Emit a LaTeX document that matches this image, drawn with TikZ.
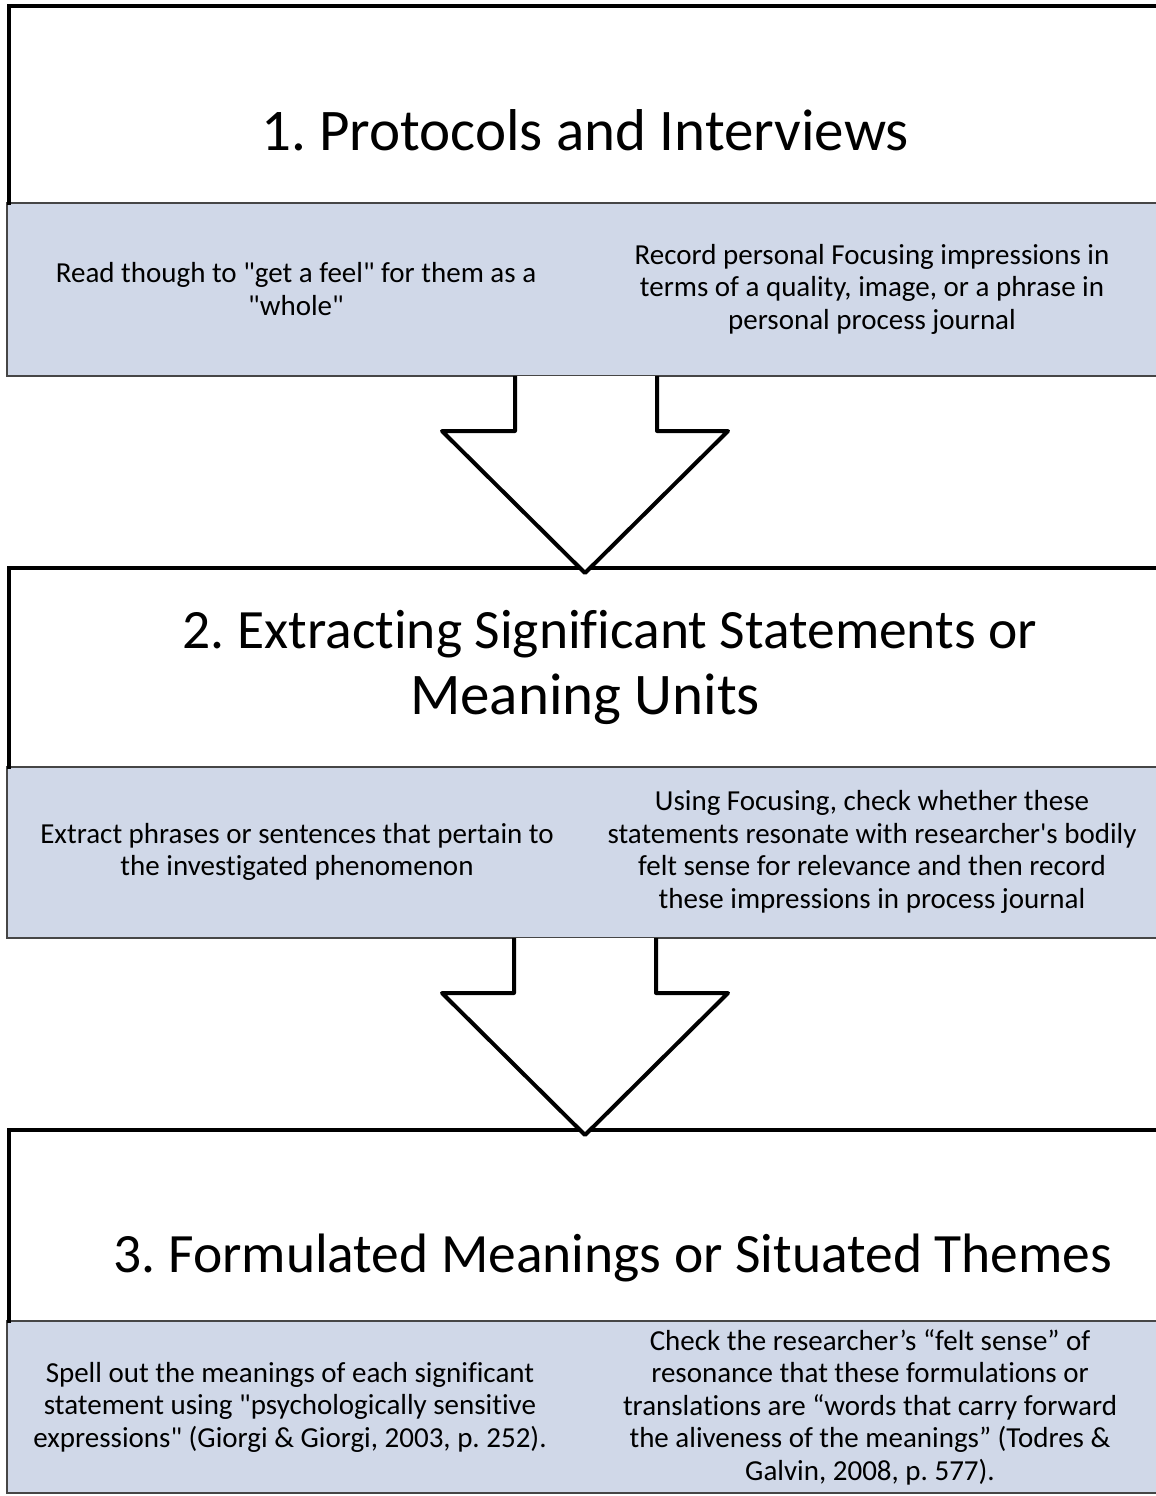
\documentclass[tikz,border=0pt]{standalone}
\usepackage{fontspec}
\setmainfont{Carlito}[Ligatures={CommonOff}]
\frenchspacing
\definecolor{bandblue}{RGB}{208,216,232}
\definecolor{bandline}{RGB}{70,70,70}
\newcommand{\sq}{\textquotedbl}
\tikzset{
  band/.style={fill=bandblue,draw=bandline,line width=1.5pt},
  frameline/.style={line width=4pt,line cap=rect},
  blockarrow/.style={fill=white,draw=black,line width=4pt,line join=round},
  title/.style={align=center,font=\fontsize{55.5}{65}\selectfont,inner sep=0pt},
  bigtitle/.style={align=center,font=\fontsize{59}{65}\selectfont,inner sep=0pt},
  body/.style={align=center,font=\fontsize{29}{32.5}\selectfont,inner sep=0pt}
}
\begin{document}
\begin{tikzpicture}[x=1pt,y=-1pt]
\useasboundingbox (0,0) rectangle (1156,1496);
% bands
\path[band] (1160,203) -- (7,203) -- (7,376) -- (1160,376);
\path[band] (1160,767) -- (7,767) -- (7,938) -- (1160,938);
\path[band] (1160,1321) -- (7,1321) -- (7,1493) -- (1160,1493);
% frame lines
\draw[frameline] (9,203) -- (9,6.5) -- (1160,6.5);
\draw[frameline] (9,767) -- (9,568) -- (1160,568);
\draw[frameline] (9,1321) -- (9,1130) -- (1160,1130);
% arrows
\coordinate (a1s) at (515,376);
\coordinate (a1e) at (657,376);
\coordinate (a2s) at (514,938);
\coordinate (a2e) at (656,938);
\path[blockarrow] (a1s) -- (515,431) -- (442,431) -- (585,573) -- (728,431) -- (657,431) -- (a1e);
\path[blockarrow] (a2s) -- (514,993) -- (442,993) -- (585,1135) -- (728,993) -- (656,993) -- (a2e);
% titles
\node[bigtitle] (t1) at (585,130) {1. Protocols and Interviews};
\node[title] (t2a) at (610,634) {2. Extracting Significant Statements or};
\node[bigtitle] (t2b) at (585,699) {Meaning Units};
\node[title] (t3) at (613,1258) {3. Formulated Meanings or Situated Themes};
% band texts
\node[body] (b1l) at (296,289) {Read though to \sq get a feel\sq{} for them as a\\\sq whole\sq};
\node[body] (b1r) at (872,289) {Record personal Focusing impressions in\\terms of a quality, image, or a phrase in\\personal process journal};
\node[body] (b2l) at (297,852) {Extract phrases or sentences that pertain to\\the investigated phenomenon};
\node[body] (b2r) at (872,852) {Using Focusing, check whether these\\statements resonate with researcher\textquotesingle s bodily\\felt sense for relevance and then record\\these impressions in process journal};
\node[body] (b3l) at (290,1407) {Spell out the meanings of each significant\\statement using \sq psychologically sensitive\\expressions\sq{} (Giorgi \& Giorgi, 2003, p. 252).};
\node[body] (b3r) at (870,1407) {Check the researcher’s “felt sense” of\\resonance that these formulations or\\translations are “words that carry forward\\the aliveness of the meanings” (Todres \&\\Galvin, 2008, p. 577).};
\end{tikzpicture}
\end{document}
